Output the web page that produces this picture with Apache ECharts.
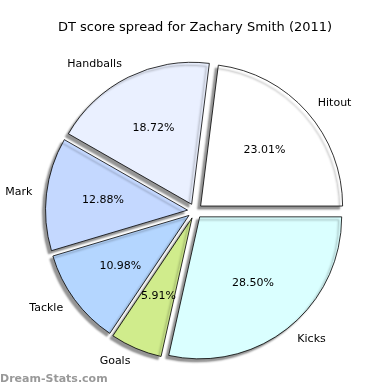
<!DOCTYPE html>
<html><head><meta charset="utf-8">
<script src="https://cdn.jsdelivr.net/npm/echarts@6/dist/echarts.min.js"></script>
<style>html,body{margin:0;padding:0;background:#fff}#c{width:390px;height:390px}</style>
</head><body><div id="c"></div>
<script>
var categories = ['Hitout', 'Handballs', 'Mark', 'Tackle', 'Goals', 'Kicks'];
var values = [23.01, 18.72, 12.88, 10.98, 5.91, 28.50];
var colors = ['#ffffff', '#eaf0ff', '#c4d8ff', '#b4d6ff', '#d0ec8c', '#daffff'];
var titleText = 'DT score spread for Zachary Smith (2011)';
var watermark = 'Dream-Stats.com';

var R = 142, CX = 195, CY = 211, OFF = 7.5;
var font = 'DejaVu Sans';
var shadow = {shadowColor: 'rgba(0,0,0,0.42)', shadowBlur: 2, shadowOffsetX: -3, shadowOffsetY: 3};

var mainData = categories.map(function (n, i) {
  return {name: n, value: values[i], selected: true,
    itemStyle: Object.assign({color: colors[i], borderColor: '#000', borderWidth: 0.8}, shadow)};
});
var pctData = categories.map(function (n, i) {
  return {name: n, value: values[i], selected: true};
});

var chart = echarts.init(document.getElementById('c'), null, {renderer: 'canvas'});
chart.setOption({
  animation: false,
  backgroundColor: '#fff',
  title: [
    {text: titleText, left: 'center', top: 16, textStyle: {fontFamily: font, fontSize: 13, fontWeight: 'normal', color: '#000'}},
    {text: watermark, left: 0, top: 374, padding: 0, textStyle: {fontFamily: font, fontSize: 11, fontWeight: 'bold', color: '#999'}}
  ],
  series: [
    {
      type: 'pie', center: [CX, CY], radius: [0, R], startAngle: 0, clockwise: false,
      selectedMode: 'multiple', selectedOffset: OFF, avoidLabelOverlap: false, silent: true,
      label: {show: true, position: 'outside', distanceToLabelLine: 0, fontFamily: font, fontSize: 11, color: '#000'},
      labelLine: {show: false, length: 0.1 * R, length2: 0},
      emphasis: {disabled: true, scale: false},
      select: {itemStyle: {}},
      data: mainData
    },
    {
      type: 'pie', center: [CX, CY], radius: [0, 2 * (0.6 * R - 3)], startAngle: 0, clockwise: false,
      selectedMode: 'multiple', selectedOffset: OFF, avoidLabelOverlap: false, silent: true,
      itemStyle: {color: 'rgba(0,0,0,0)', borderWidth: 0},
      label: {show: true, position: 'inside', fontFamily: font, fontSize: 11, color: '#000',
        formatter: function (p) { return p.value.toFixed(2) + '%'; }},
      labelLine: {show: false},
      emphasis: {disabled: true, scale: false},
      data: pctData
    }
  ]
});
</script></body></html>
